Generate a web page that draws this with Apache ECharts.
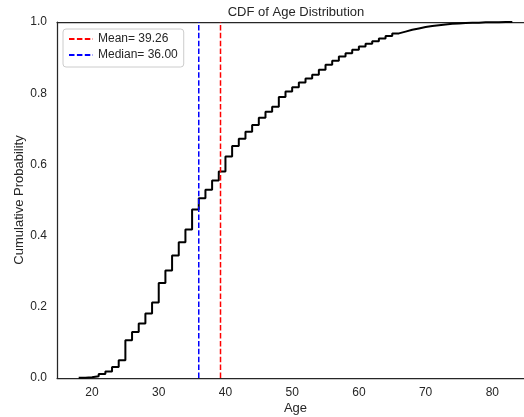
<!DOCTYPE html>
<html>
<head>
<meta charset="utf-8">
<script src="https://cdn.jsdelivr.net/npm/echarts@6/dist/echarts.min.js"></script>
<style>
  html, body { margin: 0; padding: 0; background: #fff; }
  #chart { width: 524px; height: 417px; }
</style>
</head>
<body>
<div id="chart"></div>
<script>
// ages (sorted unique values) and the empirical CDF at each of them
const ages = [18, 19, 20, 21, 22, 23, 24, 25, 26, 27, 28, 29, 30, 31, 32, 33, 34, 35, 36, 37,
  38, 39, 40, 41, 42, 43, 44, 45, 46, 47, 48, 49, 50, 51, 52, 53, 54, 55, 56, 57,
  58, 59, 60, 61, 62, 63, 64, 65, 66, 67, 68, 69, 70, 71, 72, 73, 74, 75, 76, 77,
  78, 79, 80, 81, 82, 83]
const cdf = [0.001, 0.002, 0.005, 0.011, 0.018, 0.031, 0.050, 0.106, 0.129, 0.153, 0.181, 0.212, 0.267, 0.302, 0.344, 0.381, 0.417, 0.473, 0.505, 0.529,
  0.555, 0.580, 0.622, 0.652, 0.672, 0.692, 0.711, 0.731, 0.748, 0.762, 0.789, 0.805, 0.817, 0.830, 0.841, 0.852, 0.866, 0.880, 0.891, 0.903,
  0.912, 0.922, 0.931, 0.939, 0.946, 0.954, 0.961, 0.968, 0.973, 0.978, 0.982, 0.986, 0.989, 0.991, 0.993, 0.995, 0.996, 0.997, 0.998, 0.998,
  0.999, 0.999, 0.999, 1.0, 1.0, 1.0]
const meanAge = 39.26
const medianAge = 36.0
const xTicks = [20, 30, 40, 50, 60, 70, 80]
const yTicks = [0, 0.2, 0.4, 0.6, 0.8, 1.0]

const font = 'Liberation Sans'
const ink = '#262626'

const chart = echarts.init(document.getElementById('chart'))
const option = {
  animation: false,
  textStyle: { fontFamily: font },
  title: {
    text: 'CDF of Age Distribution',
    left: 296,
    top: 6,
    padding: 0,
    textAlign: 'center',
    textStyle: { fontSize: 13, fontWeight: 'normal', color: ink, fontFamily: font }
  },
  legend: {
    orient: 'vertical',
    left: 63,
    top: 29,
    data: ['Mean= ' + meanAge.toFixed(2), 'Median= ' + medianAge.toFixed(2)],
    backgroundColor: '#fff',
    borderColor: '#cccccc',
    borderWidth: 1,
    borderRadius: 3,
    padding: [4, 6, 6, 5],
    itemGap: 4,
    itemWidth: 24,
    itemHeight: 10,
    itemStyle: { opacity: 0 },
    textStyle: { fontSize: 12, color: ink, fontFamily: font }
  },
  grid: {
    left: 57,
    width: 477,
    top: 22,
    bottom: 39,
    containLabel: false,
    outerBoundsMode: 'none'
  },
  xAxis: [{
    type: 'value',
    min: 14.75,
    max: 86.25,
    name: 'Age',
    nameLocation: 'middle',
    nameGap: 24,
    nameMoveOverlap: false,
    nameTextStyle: { fontSize: 13, color: ink, fontFamily: font },
    axisLine: { show: true, lineStyle: { color: ink, width: 1.25 } },
    axisTick: { show: false },
    splitLine: { show: false },
    axisLabel: { customValues: xTicks, fontSize: 12, color: ink, margin: 9, fontFamily: font }
  }, {
    // top spine
    type: 'value',
    position: 'top',
    min: 14.75,
    max: 86.25,
    axisLine: { show: true, onZero: false, lineStyle: { color: ink, width: 1.25 } },
    axisTick: { show: false },
    axisLabel: { show: false },
    splitLine: { show: false }
  }],
  yAxis: {
    type: 'value',
    min: 0,
    max: 1,
    interval: 0.2,
    name: 'Cumulative Probability',
    nameLocation: 'middle',
    nameGap: 31,
    nameMoveOverlap: false,
    nameTextStyle: { fontSize: 13, color: ink, fontFamily: font },
    axisLine: { show: true, lineStyle: { color: ink, width: 1.25 } },
    axisTick: { show: false },
    splitLine: { show: false },
    axisLabel: { customValues: yTicks, fontSize: 12, color: ink, margin: 10, fontFamily: font, formatter: v => v.toFixed(1) }
  },
  series: [
    {
      type: 'line',
      step: 'end',
      symbol: 'none',
      data: ages.map((a, i) => [a, cdf[i]]),
      lineStyle: { color: '#000', width: 2 },
      z: 2
    },
    {
      name: 'Mean= ' + meanAge.toFixed(2),
      type: 'line',
      symbol: 'none',
      data: [[meanAge, 0], [meanAge, 1]],
      itemStyle: { color: '#ff0000' },
      lineStyle: { color: '#ff0000', width: 1.5, type: [5.5, 2.4] },
      z: 3
    },
    {
      name: 'Median= ' + medianAge.toFixed(2),
      type: 'line',
      symbol: 'none',
      data: [[medianAge, 0], [medianAge, 1]],
      itemStyle: { color: '#0000ff' },
      lineStyle: { color: '#0000ff', width: 1.5, type: [5.5, 2.4] },
      z: 3
    }
  ]
}
chart.setOption(option)
</script>
</body>
</html>
